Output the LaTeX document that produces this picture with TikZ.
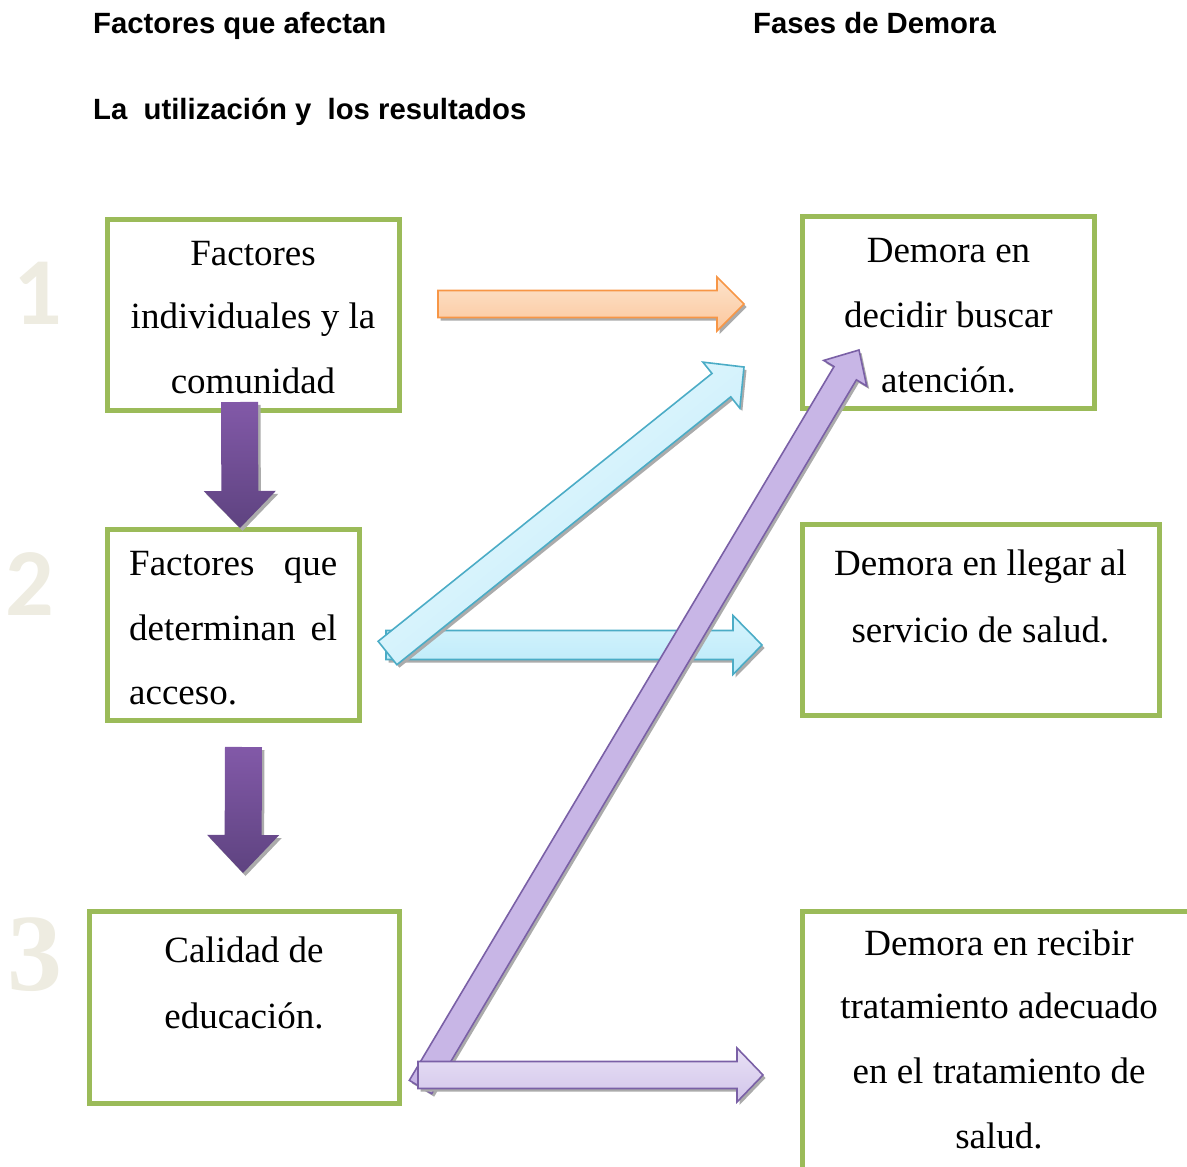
\documentclass[tikz,border=0pt]{standalone}
\usepackage{fontspec}
\setmainfont{Liberation Serif}
\newfontfamily\hdrfont{Liberation Sans}
\newfontfamily\numfont{Carlito}
\usetikzlibrary{calc}
\definecolor{boxgreen}{HTML}{9BBB59}
\definecolor{numbeige}{HTML}{EEECE1}
\definecolor{shadowgray}{HTML}{ABABAB}
\definecolor{orgline}{HTML}{F79646}
\definecolor{orgtop}{HTML}{FDE3CB}
\definecolor{orgbot}{HTML}{FBC79D}
\definecolor{cyline}{HTML}{4BACC6}
\definecolor{cytop}{HTML}{D7F4FD}
\definecolor{cybot}{HTML}{BAEAF9}
\definecolor{cydlight}{HTML}{EEFAFE}
\definecolor{cyddark}{HTML}{BDEBFA}
\definecolor{puline}{HTML}{7A60A6}
\definecolor{pufill}{HTML}{C8B6E6}
\definecolor{puhtop}{HTML}{E8E0F5}
\definecolor{puhbot}{HTML}{D2C5EA}
\definecolor{dptop}{HTML}{8259A8}
\definecolor{dpbot}{HTML}{5E4380}
\tikzset{
  box/.style={draw=boxgreen, line width=5pt, fill=white, inner sep=0pt},
  boxtext/.style={anchor=base, inner sep=0pt, font=\fontsize{37}{44}\selectfont},
  boxtextl/.style={boxtext, anchor=base west},
  hdr/.style={anchor=base west, inner sep=0pt, font=\hdrfont\bfseries\fontsize{29.3}{34}\selectfont},
  numsans/.style={anchor=base, inner sep=0pt, text=numbeige, font=\numfont\bfseries\fontsize{96}{100}\selectfont},
  numserif/.style={anchor=base, inner sep=0pt, text=numbeige, font=\bfseries\fontsize{110}{114}\selectfont},
  shadowfill/.style={fill=shadowgray, transform canvas={shift={(2.5pt,-3pt)}}},
  orangearrow/.style={draw=orgline, line width=1.6pt, top color=orgtop, bottom color=orgbot},
  cyanarrow/.style={draw=cyline, line width=1.6pt, top color=cytop, bottom color=cybot},
  cyandiag/.style={draw=cyline, line width=1.6pt, top color=cydlight, bottom color=cyddark, shading angle=38.7},
  purplediag/.style={draw=puline, line width=1.6pt, fill=pufill},
  purplearrow/.style={draw=puline, line width=1.6pt, top color=puhtop, bottom color=puhbot},
  darkarrow/.style={top color=dptop, bottom color=dpbot},
}
% #1 style, #2 tail, #3 tip, #4 half shaft width, #5 half head width, #6 head length
\newcommand\blockarrow[6]{%
  \coordinate (ba-hb) at ($(#3)!#6!(#2)$);
  \path[#1] ($(#2)!#4!90:(#3)$) -- ($(ba-hb)!#4!90:(#3)$) -- ($(ba-hb)!#5!90:(#3)$)
    -- (#3) -- ($(ba-hb)!#5!-90:(#3)$) -- ($(ba-hb)!#4!-90:(#3)$) -- ($(#2)!#4!-90:(#3)$) -- cycle;
}
\newcommand\shadowarrow[6]{%
  \blockarrow{shadowfill}{#2}{#3}{#4}{#5}{#6}%
  \blockarrow{#1}{#2}{#3}{#4}{#5}{#6}%
}
\begin{document}
\begin{tikzpicture}[x=1pt,y=-1pt]
\clip (0,0) rectangle (1187,1167);
\useasboundingbox (0,0) rectangle (1187,1167);

% headers
\node[hdr] (h1) at (93,33) {Factores que afectan};
\node[hdr] (h2) at (753,33) {Fases de Demora};
\node[hdr] (h3) at (93,119) {La\ \ utilización y\ \ los resultados};

% numbers
\node[numsans] (n1) at (38,324) {1};
\node[numsans] (n2) at (30,615) {2};
\node[numserif] (n3) at (35,990) {3};

% boxes
\node[box, minimum width=292pt, minimum height=191.5pt] (b1) at (253.5,314.75) {};
\node[box, minimum width=252pt, minimum height=191pt] (b2) at (233.5,625) {};
\node[box, minimum width=310pt, minimum height=192pt] (b3) at (244.5,1007) {};
\node[box, minimum width=292.5pt, minimum height=192pt] (r1) at (948.25,312.5) {};
\node[box, minimum width=357.5pt, minimum height=191pt] (r2) at (980.75,620) {};
\node[box, minimum width=408pt, minimum height=279pt] (r3) at (1006,1050.5) {};

% box texts
\node[boxtext] (b1a) at (253,265) {Factores};
\node[boxtext] (b1b) at (253,328) {individuales y la};
\node[boxtext] (b1c) at (253,393) {comunidad};

\node[boxtextl] (b2a) at (129,575) {\makebox[208pt][s]{Factores que}};
\node[boxtextl] (b2b) at (129,640) {\makebox[208pt][s]{determinan el}};
\node[boxtextl] (b2c) at (129,704) {acceso.};

\node[boxtext] (b3a) at (244,962) {Calidad de};
\node[boxtext] (b3b) at (244,1028) {educación.};

\node[boxtext] (r1a) at (948.5,262) {Demora en};
\node[boxtext] (r1b) at (948.5,327) {decidir buscar};
\node[boxtext] (r1c) at (948.5,392) {atención.};

\node[boxtext] (r2a) at (980.5,575) {Demora en llegar al};
\node[boxtext] (r2b) at (980.5,642.5) {servicio de salud.};

\node[boxtext] (r3a) at (999,955) {Demora en recibir};
\node[boxtext] (r3b) at (999,1018) {tratamiento adecuado};
\node[boxtext] (r3c) at (999,1083) {en el tratamiento de};
\node[boxtext] (r3d) at (999,1148) {salud.};

% arrow end points
\coordinate (oT) at (438,304);     \coordinate (oH) at (744,304);
\coordinate (chT) at (386,645);    \coordinate (chH) at (762,645);
\coordinate (cdT) at (387.5,653);  \coordinate (cdH) at (744,367);
\coordinate (pdT) at (420.5,1087); \coordinate (pdH) at (859,350);
\coordinate (phT) at (418,1075);   \coordinate (phH) at (763,1075);
\coordinate (d1T) at (239.5,402);  \coordinate (d1H) at (240,528);
\coordinate (d2T) at (243.5,747);  \coordinate (d2H) at (243,873);

% arrows
\shadowarrow{orangearrow}{oT}{oH}{13.5pt}{27pt}{27pt}
\shadowarrow{cyanarrow}{chT}{chH}{14.5pt}{29.5pt}{29pt}
\shadowarrow{cyandiag}{cdT}{cdH}{15pt}{29.5pt}{29pt}
\shadowarrow{purplediag}{pdT}{pdH}{13pt}{25pt}{27pt}
\shadowarrow{purplearrow}{phT}{phH}{13.5pt}{27pt}{26pt}
\shadowarrow{darkarrow}{d1T}{d1H}{18.5pt}{36pt}{37pt}
\shadowarrow{darkarrow}{d2T}{d2H}{18.5pt}{36pt}{38pt}
\end{tikzpicture}
\end{document}
